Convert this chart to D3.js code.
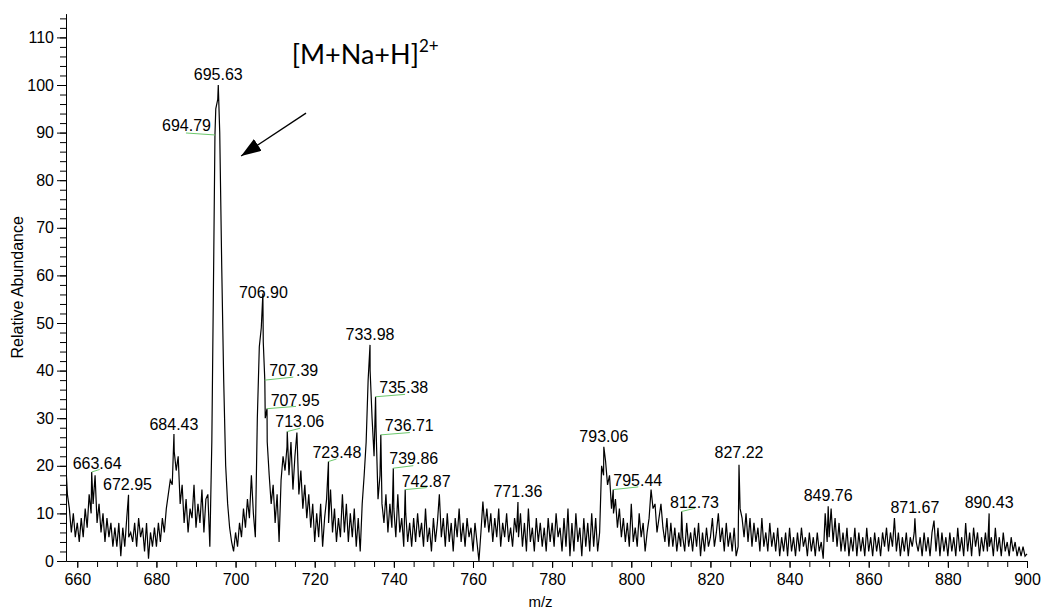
<!DOCTYPE html>
<html>
<head>
<meta charset="utf-8">
<script src="https://cdn.jsdelivr.net/npm/d3@7"></script>
<style>
  body { margin: 0; background: #fff; }
  svg { display: block; font-family: "Liberation Sans", Arial, sans-serif; }
</style>
</head>
<body>
<svg id="chart" width="1042" height="610"></svg>
<script>
// spectrum, every 0.5 m/z starting at 657.0
const startMz = 657
const stepMz = 0.5
const abundance = [
    // 657 - 659.5
    22, 14, 11, 6, 10, 5,
    // 660
    8, 4, 9, 5, 11, 7, 14, 10, 12, 18,  8, 12, 6, 10, 4, 9, 5, 8, 3, 7,
    // 670
    3, 8, 1, 7, 3, 9, 5, 6, 4, 8,  3, 9, 5, 7, 2, 8, 0.5, 6, 3, 7,
    // 680
    3, 8, 4, 9, 6, 11, 14, 17, 16, 23,  19, 22, 12, 16, 8, 13, 6, 11, 9, 16,
    // 690
    7, 12, 8, 15, 6, 13, 14, 3, 25, 65,  95, 97, 90, 62, 38, 20, 12, 7, 4, 2,
    // 700
    6, 3, 8, 5, 11, 7, 13, 9, 18, 10,  5, 30, 45, 49, 46, 30, 25, 18, 12, 16,
    // 710
    8, 14, 4, 17, 22, 19, 24, 18, 25, 15,  22, 27, 14, 19, 11, 16, 9, 14, 7, 12,
    // 720
    4, 10, 5, 12, 3, 9, 13, 8, 15, 6,  11, 4, 9, 5, 14, 6, 12, 4, 10, 5,
    // 730
    11, 3, 9, 2, 12, 18, 25, 38, 40, 30,  22, 28, 13, 18, 12, 8, 14, 6, 12, 7,
    // 740
    11, 5, 14, 6, 9, 3, 10, 4, 8, 3,  9, 4, 10, 5, 8, 3, 11, 4, 7, 2,
    // 750
    9, 4, 8, 14, 5, 9, 3, 10, 4, 8,  2, 9, 5, 11, 4, 8, 3, 9, 5, 7,
    // 760
    2, 8, 4, 0, 6, 12.5, 7, 11, 6, 10,  4, 9, 5, 11, 3, 8, 5, 10, 4, 7,
    // 770
    3, 9, 6, 5, 10, 3, 8, 2, 11, 4,  7, 2, 9, 4, 8, 3, 7, 2, 9, 4,
    // 780
    8, 3, 10, 5, 7, 2, 9, 3, 11, 1,  8, 2, 10, 4, 7, 1, 9, 3, 8, 2,
    // 790
    10, 3, 9, 2, 6, 20, 18, 21, 16, 18,  11, 10, 13, 7, 11, 5, 9, 4, 8, 3,
    // 800
    12, 4, 7, 3, 10, 5, 8, 2, 6, 9,  15, 11, 12, 6, 9, 12, 7, 4, 9, 3,
    // 810
    8, 3, 7, 2, 6, 3, 5, 2, 8, 3,  6, 2, 7, 3, 8, 1, 6, 2, 7, 3,
    // 820
    5, 9, 3, 6, 10, 4, 7, 2, 8, 3,  6, 2, 7, 1, 3, 11, 9, 5, 10, 4,
    // 830
    9, 3, 8, 4, 7, 2, 9, 3, 6, 2,  8, 3, 6, 2, 7, 1, 5, 2, 6, 1,
    // 840
    7, 2, 5, 1, 6, 2, 7, 3, 5, 1,  6, 2, 5, 1, 6, 2, 4, 0.5, 10, 4,
    // 850
    5, 11, 4, 9, 3, 8, 2, 6, 2, 7,  1, 5, 2, 7, 1, 6, 2, 5, 1, 7,
    // 860
    2, 5, 1, 6, 2, 5, 1, 6, 3, 7,  2, 6, 3, 9, 2, 6, 1, 5, 2, 6,
    // 870
    1, 5, 3, 6, 4, 2, 5, 1, 6, 2,  5, 1, 6, 8.5, 2, 7, 1, 6, 2, 5,
    // 880
    1, 6, 2, 5, 1, 7, 2, 5, 1, 8,  2, 6, 1, 7, 3, 6, 1, 5, 2, 6,
    // 890
    2, 3, 5, 1, 7, 2, 5, 1, 6, 2,  4, 1, 5, 2, 4, 1, 3, 1, 3, 1,
    // 900
    1.5
]

// labelled peaks
const peakMz = [663.64, 672.95, 684.43, 694.79, 695.63, 706.90, 707.39, 707.95, 713.06, 723.48,
    733.98, 735.38, 736.71, 739.86, 742.87, 771.36, 793.06, 795.44, 812.73, 827.22,
    849.76, 871.67, 890.43]
const peakInt = [18.7, 13.9, 26.7, 89.5, 100, 56.2, 38, 32, 27.2, 20.9,
    45.4, 34.5, 26.5, 19.5, 15, 12.4, 24, 15, 10.4, 20.2,
    11.5, 9, 10]

const xTickLabels = [660, 680, 700, 720, 740, 760, 780, 800, 820, 840, 860, 880, 900]
const yTickLabels = [0, 10, 20, 30, 40, 50, 60, 70, 80, 90, 100, 110]

const ionLabel = '[M+Na+H]'
const ionCharge = '2+'

// where each peak label sits relative to its peak top (px), leader = green line end
const labelPlace = [
    { anchor: 'start', dx: -19, dy: -2.5, leader: [8, -2.5] },
    { anchor: 'middle', dx: -1, dy: -5 },
    { anchor: 'middle', dx: 0, dy: -4 },
    { anchor: 'end', dx: -4, dy: -3.5, leader: [-29, -2] },
    { anchor: 'middle', dx: 0, dy: -5 },
    { anchor: 'middle', dx: 0.5, dy: 4.5 },
    { anchor: 'start', dx: 4.5, dy: -4, leader: [28.5, -3] },
    { anchor: 'start', dx: 3.7, dy: -2.2, leader: [29, -2.3] },
    { anchor: 'start', dx: -12, dy: -5, leader: [13, -3.3] },
    { anchor: 'start', dx: -16, dy: -4, leader: [8, -2.5] },
    { anchor: 'middle', dx: 0, dy: -5 },
    { anchor: 'start', dx: 3.7, dy: -3.5, leader: [29.5, -2.4] },
    { anchor: 'start', dx: 4, dy: -4, leader: [29, -2.3] },
    { anchor: 'start', dx: -4, dy: -4.5, leader: [20, -2.5] },
    { anchor: 'start', dx: -3.5, dy: -3, leader: [21.5, -2] },
    { anchor: 'middle', dx: 0, dy: -5 },
    { anchor: 'middle', dx: 0, dy: -5 },
    { anchor: 'start', dx: 0, dy: -3.5, leader: [25, -2.7] },
    { anchor: 'start', dx: -11.6, dy: -3.3, leader: [13.5, -3.3] },
    { anchor: 'middle', dx: 0, dy: -6.5 },
    { anchor: 'middle', dx: 0, dy: -5 },
    { anchor: 'middle', dx: 0, dy: -5 },
    { anchor: 'middle', dx: 0, dy: -5 }
]

const svg = d3.select('#chart')
const left = 66
const right = 1027
const bottom = 561

const x = d3.scaleLinear().domain([657.15, 900]).range([left, right])
const y = d3.scaleLinear().domain([0, 115]).range([bottom, bottom - 115 * 4.76])

const data = abundance.map((v, i) => ({ mz: startMz + i * stepMz, v }))
    .concat(peakMz.map((mz, i) => ({ mz, v: peakInt[i] })))
    .sort((a, b) => a.mz - b.mz)

svg.append('defs').append('clipPath')
    .attr('id', 'plot')
    .append('rect')
    .attr('x', left)
    .attr('y', 0)
    .attr('width', right - left + 1)
    .attr('height', bottom)

svg.select('defs').append('marker')
    .attr('id', 'head')
    .attr('viewBox', '0 0 20 14')
    .attr('refX', 20)
    .attr('refY', 7)
    .attr('markerWidth', 20)
    .attr('markerHeight', 14)
    .attr('markerUnits', 'userSpaceOnUse')
    .attr('orient', 'auto')
    .append('path')
    .attr('d', 'M0,0L20,7L0,14Z')
    .attr('fill', '#000')

// spectrum trace
const line = d3.line().x(d => x(d.mz)).y(d => y(d.v))
svg.append('path')
    .datum(data)
    .attr('clip-path', 'url(#plot)')
    .attr('fill', 'none')
    .attr('stroke', '#000')
    .attr('stroke-width', 1.2)
    .attr('stroke-linejoin', 'miter')
    .attr('d', line)

// y axis
const yMinor = svg.append('g')
    .attr('transform', `translate(${left},0)`)
    .call(d3.axisLeft(y).tickValues(d3.range(0, 115, 2)).tickSize(6).tickSizeOuter(0).tickFormat(''))
yMinor.select('.domain').remove()

const yAxis = svg.append('g')
    .attr('transform', `translate(${left},0)`)
    .call(d3.axisLeft(y).tickValues(yTickLabels).tickSize(9).tickPadding(3).tickSizeOuter(0))

// bottom axis
svg.append('g')
    .attr('transform', `translate(0,${bottom})`)
    .call(d3.axisBottom(x).tickValues(d3.range(660, 901, 5)).tickSize(6).tickSizeOuter(0).tickFormat(''))

svg.append('g')
    .attr('transform', `translate(0,${bottom})`)
    .call(d3.axisBottom(x).tickValues(xTickLabels).tickSize(7).tickPadding(6).tickSizeOuter(0))

svg.selectAll('.tick text')
    .attr('font-family', '"Liberation Sans", Arial, sans-serif')
    .attr('font-size', 16)
    .attr('fill', '#000')
svg.selectAll('.domain, .tick line').attr('stroke', '#000')

// axis titles
svg.append('text')
    .attr('transform', `translate(23,${(bottom + y(115)) / 2}) rotate(-90)`)
    .attr('text-anchor', 'middle')
    .attr('font-size', 16)
    .text('Relative Abundance')

svg.append('text')
    .attr('x', (left + right) / 2 - 6)
    .attr('y', 607)
    .attr('text-anchor', 'middle')
    .attr('font-size', 15)
    .text('m/z')

// peak labels with their green leaders
const peaks = peakMz.map((mz, i) => ({ mz, v: peakInt[i], p: labelPlace[i] }))

svg.append('g')
    .selectAll('line')
    .data(peaks.filter(d => d.p.leader))
    .join('line')
    .attr('x1', d => x(d.mz))
    .attr('y1', d => y(d.v))
    .attr('x2', d => x(d.mz) + d.p.leader[0])
    .attr('y2', d => y(d.v) + d.p.leader[1])
    .attr('stroke', '#6cc86c')
    .attr('stroke-width', 1)

svg.append('g')
    .selectAll('text')
    .data(peaks)
    .join('text')
    .attr('x', d => x(d.mz) + d.p.dx)
    .attr('y', d => y(d.v) + d.p.dy)
    .attr('text-anchor', d => d.p.anchor)
    .attr('font-size', 16)
    .attr('fill', '#000')
    .text(d => d3.format('.2f')(d.mz))

// ion annotation and arrow
const ion = svg.append('text')
    .attr('x', x(714.2))
    .attr('y', y(104.4))
    .attr('font-family', 'Lato, "Open Sans", sans-serif')
    .attr('font-size', 27)
    .attr('fill', '#000')
ion.append('tspan').text(ionLabel)
ion.append('tspan')
    .attr('dy', -12)
    .attr('font-size', 17)
    .text(ionCharge)

svg.append('line')
    .attr('x1', x(717.8))
    .attr('y1', y(94.1))
    .attr('x2', x(701.4))
    .attr('y2', y(85.1))
    .attr('stroke', '#000')
    .attr('stroke-width', 1.3)
    .attr('marker-end', 'url(#head)')
</script>
</body>
</html>
